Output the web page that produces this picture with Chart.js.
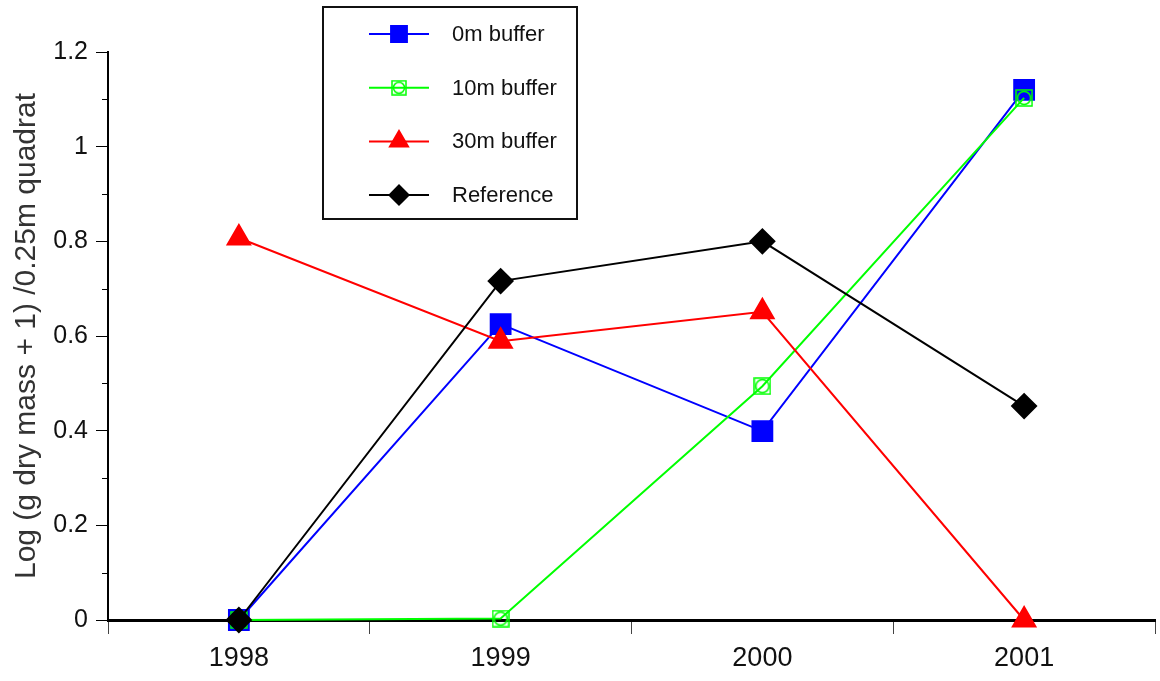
<!DOCTYPE html>
<html>
<head>
<meta charset="utf-8">
<script src="https://cdn.jsdelivr.net/npm/chart.js@4"></script>
<style>
    html, body { margin: 0; padding: 0; background: #fff; overflow: hidden; }
    #wrap { width: 1171px; height: 681px; }
</style>
</head>
<body>
<div id="wrap"><canvas id="chart"></canvas></div>
<script>
const years = ['1998', '1999', '2000', '2001'];
const buffer0m = [0, 0.625, 0.399, 1.12];
const buffer10m = [0, 0.003, 0.494, 1.103];
const buffer30m = [0.807, 0.589, 0.651, 0];
const referenceSite = [0, 0.716, 0.80, 0.452];
const seriesNames = ['0m buffer', '10m buffer', '30m buffer', 'Reference'];
const minorTickValues = [0.1, 0.3, 0.5, 0.7, 0.9, 1.1];
const yTitle = 'Log (g dry mass + 1) /0.25m quadrat';

const FONT = '"Liberation Sans", Arial, sans-serif';

// open green square with a circle inside, used for the 10m series
function makeOpenSquareCircle(size, color) {
    const c = document.createElement('canvas');
    c.width = size;
    c.height = size;
    const ctx = c.getContext('2d');
    ctx.strokeStyle = color;
    ctx.lineWidth = 1.5;
    ctx.strokeRect(1, 1, size - 2, size - 2);
    ctx.beginPath();
    ctx.arc(size / 2, size / 2, size / 2 - 2.5, 0, Math.PI * 2);
    ctx.stroke();
    return c;
}

const greenMarker = makeOpenSquareCircle(18, '#00ff00');
const greenMarkerSmall = makeOpenSquareCircle(16, '#00ff00');

const minorTicks = {
    id: 'minorTicks',
    afterDraw(chart) {
        const y = chart.scales.y;
        const ctx = chart.ctx;
        ctx.save();
        ctx.strokeStyle = '#000';
        ctx.lineWidth = 1;
        minorTickValues.forEach(v => {
            const py = Math.round(y.getPixelForValue(v)) + 0.5;
            ctx.beginPath();
            ctx.moveTo(y.right - 6, py);
            ctx.lineTo(y.right, py);
            ctx.stroke();
        });
        ctx.restore();
    }
};

const boxLegend = {
    id: 'boxLegend',
    afterDraw(chart) {
        const ctx = chart.ctx;
        ctx.save();
        ctx.fillStyle = '#fff';
        ctx.fillRect(323, 7, 254, 212);
        ctx.strokeStyle = '#111';
        ctx.lineWidth = 2;
        ctx.strokeRect(323, 7, 254, 212);
        chart.data.datasets.forEach((ds, i) => {
            const y = 34 + i * 53.7;
            ctx.strokeStyle = ds.borderColor;
            ctx.lineWidth = 2;
            ctx.beginPath();
            ctx.moveTo(369, y);
            ctx.lineTo(429, y);
            ctx.stroke();
            ctx.fillStyle = ds.pointBackgroundColor;
            ctx.strokeStyle = ds.pointBorderColor;
            const style = ds.legendStyle || ds.pointStyle;
            Chart.helpers.drawPoint(ctx, {
                pointStyle: style,
                rotation: 0,
                radius: ds.pointRadius * 0.8,
                borderWidth: 1
            }, 399, y);
            ctx.fillStyle = '#111';
            ctx.font = '22px ' + FONT;
            ctx.textBaseline = 'middle';
            ctx.textAlign = 'left';
            ctx.fillText(seriesNames[i], 452, y + 1);
        });
        ctx.restore();
    }
};

new Chart(document.getElementById('chart'), {
    type: 'line',
    data: {
        labels: years,
        datasets: [{
            label: seriesNames[0],
            data: buffer0m,
            borderColor: '#0000ff',
            pointBackgroundColor: '#0000ff',
            pointBorderColor: '#0000ff',
            pointStyle: 'rect',
            pointRadius: 14,
            borderWidth: 2,
            clip: false,
            order: 3
        }, {
            label: seriesNames[1],
            data: buffer10m,
            borderColor: '#00ff00',
            pointBackgroundColor: 'rgba(0,0,0,0)',
            pointBorderColor: '#00ff00',
            pointStyle: greenMarker,
            legendStyle: greenMarkerSmall,
            pointRadius: 9,
            borderWidth: 2,
            clip: false,
            order: 2
        }, {
            label: seriesNames[2],
            data: buffer30m,
            borderColor: '#ff0000',
            pointBackgroundColor: '#ff0000',
            pointBorderColor: '#ff0000',
            pointStyle: 'triangle',
            pointRadius: 13,
            borderWidth: 2,
            clip: false,
            order: 1
        }, {
            label: seriesNames[3],
            data: referenceSite,
            borderColor: '#000000',
            pointBackgroundColor: '#000000',
            pointBorderColor: '#000000',
            pointStyle: 'rectRot',
            pointRadius: 12,
            borderWidth: 2,
            clip: false,
            order: 0
        }]
    },
    options: {
        responsive: true,
        maintainAspectRatio: false,
        animation: false,
        layout: { padding: { top: 52, right: 0, left: 0, bottom: 0 } },
        plugins: {
            legend: { display: false },
            tooltip: { enabled: false }
        },
        elements: {
            line: { tension: 0 },
            point: { borderWidth: 1 }
        },
        scales: {
            x: {
                offset: true,
                grid: {
                    offset: true,
                    drawOnChartArea: false,
                    drawTicks: true,
                    tickLength: 14,
                    color: '#444',
                    lineWidth: 1
                },
                border: { color: '#000', width: 3 },
                ticks: {
                    color: '#111',
                    font: { family: FONT, size: 27 },
                    padding: 8
                },
                afterFit(scale) { scale.height = 61; }
            },
            y: {
                min: 0,
                max: 1.2,
                ticks: {
                    stepSize: 0.2,
                    color: '#111',
                    font: { family: FONT, size: 25 },
                    padding: 8,
                    callback: v => Math.round(v * 10) / 10
                },
                grid: {
                    drawOnChartArea: false,
                    tickLength: 12,
                    color: '#000',
                    lineWidth: 1
                },
                border: { color: '#000', width: 2 },
                title: {
                    display: true,
                    text: yTitle,
                    color: '#333',
                    font: { family: FONT, size: 30 },
                    padding: { top: 9, bottom: 0 }
                },
                afterFit(scale) { scale.width = 108; }
            }
        }
    },
    plugins: [minorTicks, boxLegend]
});
</script>
</body>
</html>
